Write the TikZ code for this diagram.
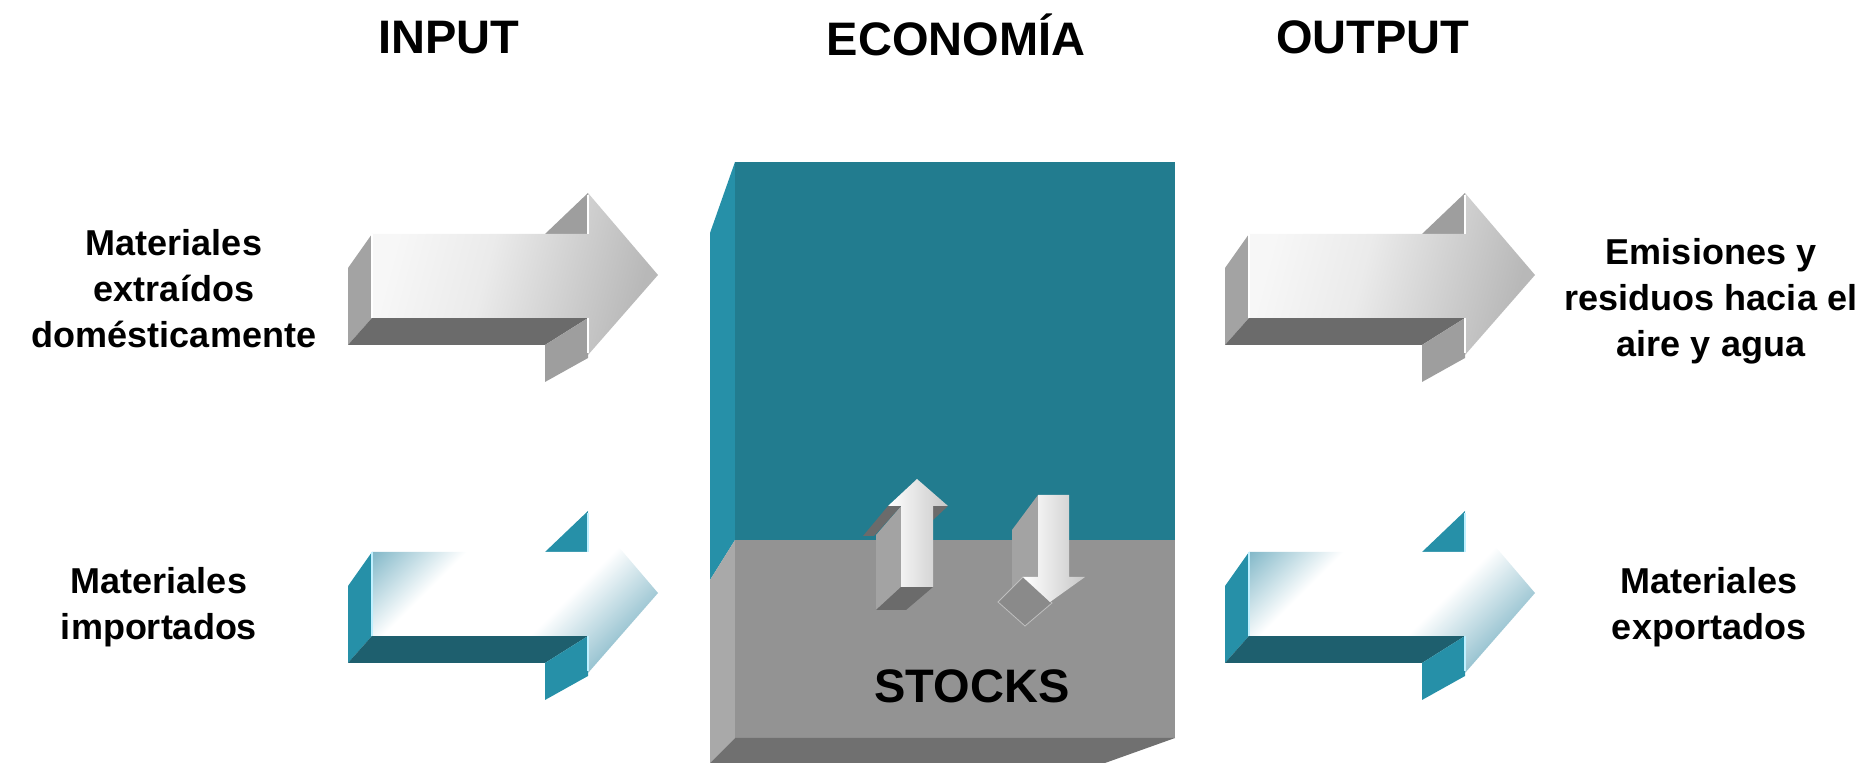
\documentclass[tikz,border=0pt]{standalone}
\usepackage{fontspec}
\setmainfont{Liberation Sans}
\definecolor{tealfront}{HTML}{227C8F}
\definecolor{tealside}{HTML}{2690A8}
\definecolor{tealdark}{HTML}{1E5F6E}
\definecolor{tealL}{HTML}{7DB5C6}
\definecolor{tealR}{HTML}{8DBDCC}
\definecolor{tealedge}{HTML}{BFF0FF}
\definecolor{boxgray}{HTML}{939393}
\definecolor{boxside}{HTML}{A9A9A9}
\definecolor{boxbottom}{HTML}{707070}
\definecolor{arrside}{HTML}{A3A3A3}
\definecolor{arrdark}{HTML}{6B6B6B}
\definecolor{arrhead}{HTML}{9E9E9E}
\pgfdeclarehorizontalshading{tealsh}{100bp}{color(0bp)=(tealL); color(27bp)=(tealL); color(39bp)=(white); color(57bp)=(white); color(70bp)=(tealR); color(100bp)=(tealR)}
\pgfdeclarehorizontalshading{graysh}{100bp}{color(0bp)=(black!3); color(28bp)=(black!3); color(45bp)=(black!8); color(72bp)=(black!28); color(100bp)=(black!28)}
\tikzset{
  lbl/.style={font=\bfseries\fontsize{18}{23}\selectfont, align=center, inner sep=0pt},
  ttl/.style={font=\bfseries\fontsize{23.5}{28}\selectfont, anchor=base, inner sep=0pt},
  grayfront/.style={shading=graysh, shading angle=-15},
  tealfrontsh/.style={shading=tealsh, shading angle=-45},
}
\newcommand\bigArrow[6]{%
\begin{scope}[shift={#1}]
\fill[#2] (372,234)--(348,268)--(348,345)--(372,318)--cycle;
\fill[#3] (372,318)--(588,318)--(545,345)--(348,345)--cycle;
\fill[#4] (545,234)--(588,193)--(588,234)--cycle;
\fill[#4] (588,318)--(588,358)--(545,382)--(545,345)--cycle;
\begin{scope}
\clip (372,234)--(588,234)--(588,193)--(658,275)--(588,355)--(588,318)--(372,318)--cycle;
\shade[#5] (370,130) rectangle (660,420);
\end{scope}
\draw[#6, line width=0.8pt] (372,234)--(372,318) (588,195)--(588,234) (588,318)--(588,353);
\end{scope}}
\begin{document}
\begin{tikzpicture}[x=0.5pt,y=-0.5pt]
\useasboundingbox (0,0) rectangle (1865,763);
% titles
\node[ttl] (tin) at (449,54) {INPUT};
\node[ttl] (teco) at (956,56) {ECONOMÍA};
\node[ttl] (tout) at (1373,54) {OUTPUT};
% big arrows
\bigArrow{(0,0)}{arrside}{arrdark}{arrhead}{grayfront}{white}
\bigArrow{(877,0)}{arrside}{arrdark}{arrhead}{grayfront}{white}
\bigArrow{(0,318)}{tealside}{tealdark}{tealside}{tealfrontsh}{tealedge}
\bigArrow{(877,318)}{tealside}{tealdark}{tealside}{tealfrontsh}{tealedge}
% box
\fill[tealside] (710,233)--(735,162)--(735,540)--(710,580)--cycle;
\fill[boxside] (710,580)--(735,540)--(735,738)--(710,763)--cycle;
\fill[tealfront] (735,162) rectangle (1175,540);
\fill[boxgray] (735,540) rectangle (1175,738);
\fill[boxbottom] (710,763)--(735,738)--(1175,738)--(1105,763)--cycle;
% up arrow
\fill[arrside] (901,506)--(876,535)--(876,610)--(901,587)--cycle;
\fill[arrdark] (901,587)--(933,587)--(906,610)--(876,610)--cycle;
\fill[arrdark] (888,506)--(901,506)--(874,536)--(863,536)--cycle;
\fill[arrdark] (933,506)--(948,506)--(933,520)--cycle;
\shade[left color=white, right color=black!22] (901,587)--(901,506)--(888,506)--(917,479)--(948,506)--(933,506)--(933,587)--cycle;
% down arrow
\fill[arrside] (1038,495)--(1012,530)--(1012,592)--(1038,577)--cycle;
\filldraw[fill=black!46, draw=black!25, line width=0.4pt] (1023,577)--(998,602)--(1025,626)--(1052,603)--cycle;
\shade[left color=white, right color=black!22] (1038,495)--(1069,495)--(1069,577)--(1085,577)--(1050,602)--(1023,577)--(1038,577)--cycle;
\node[ttl, anchor=center] (stocks) at (972,686) {STOCKS};
% labels
\node[lbl] (l1) at (174,289) {Materiales\\extraídos\\domésticamente};
\node[lbl] (l2) at (159,607) {Materiales\\importados};
\node[lbl] (r1) at (1711,301) {Emisiones y\\residuos hacia el\\aire y agua};
\node[lbl] (r2) at (1709,607) {Materiales\\exportados};
\end{tikzpicture}
\end{document}
